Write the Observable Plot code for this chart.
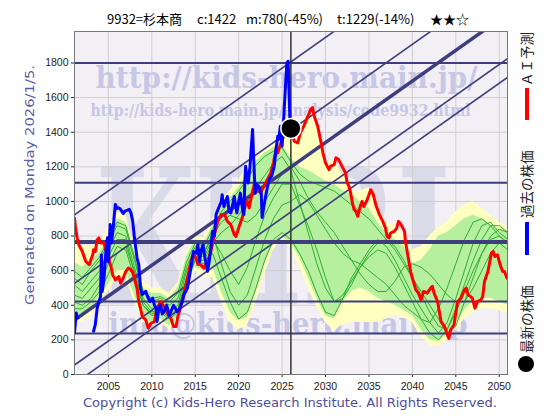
<!DOCTYPE html>
<html><head><meta charset="utf-8">
<script src="https://cdn.jsdelivr.net/npm/d3@7"></script>
<script src="https://cdn.jsdelivr.net/npm/@observablehq/plot@0.6"></script>
<style>body{margin:0;background:#fff}</style>
</head><body><div id="chart"></div>
<script>
// ---------- data ----------
const titleParts = ["9932=杉本商", "c:1422", "m:780(-45%)", "t:1229(-14%)", "★★☆"];
const xTicks = [2005, 2010, 2015, 2020, 2025, 2030, 2035, 2040, 2045, 2050];
const yTicks = [0, 200, 400, 600, 800, 1000, 1200, 1400, 1600, 1800];
const xDomain = [2001.1, 2050.95];
const yDomain = [0, 1982];
const today = 2026.01;
const currentPrice = 1422;
const levelLines = [1800, 1108, 422, 237];
const mainLevel = 765;
const trendSlope = 35.5;               // price units per year
const trendStarts = [922, 527, 55, -53]; // value at left edge
const trendMain = [315];

const bluePast = [[2001.1,240],[2001.2,300],[2001.3,355],[2001.4,335],[2001.5,330],[2002.5,null],
[2003.3,250],[2003.5,290],[2003.7,380],[2003.9,420],[2004.1,450],[2004.2,690],[2004.3,480],[2004.5,560],[2004.7,700],[2004.9,790],
[2005.0,650],[2005.2,867],[2005.35,760],[2005.5,820],[2005.8,983],[2006.0,960],[2006.2,963],[2006.4,955],[2006.7,930],[2006.9,944],
[2007.2,950],[2007.4,955],[2007.6,934],[2007.8,886],[2008.0,790],[2008.3,673],[2008.5,635],[2008.7,499],[2008.9,462],[2009.1,470],
[2009.3,480],[2009.6,440],[2009.8,422],[2010.1,441],[2010.3,400],[2010.5,383],[2010.6,306],[2010.8,380],[2011.0,404],[2011.2,350],
[2011.4,364],[2011.7,400],[2011.8,383],[2012.0,340],[2012.2,364],[2012.5,400],[2012.7,383],[2012.9,364],[2013.1,370],[2013.3,393],
[2013.5,420],[2013.7,461],[2014.1,499],[2014.5,615],[2014.8,711],[2015.1,700],[2015.3,750],[2015.5,653],[2015.7,720],[2015.9,750],
[2016.1,680],[2016.2,653],[2016.4,596],[2016.6,650],[2016.8,731],[2017.0,827],[2017.2,800],[2017.4,925],[2017.7,963],[2018.0,1000],
[2018.1,1039],[2018.3,971],[2018.5,1000],[2018.7,1029],[2018.9,940],[2019.1,934],[2019.3,980],[2019.5,1029],[2019.7,960],[2019.8,934],
[2020.0,1000],[2020.2,1048],[2020.5,934],[2020.6,925],[2020.7,1100],[2020.8,1204],[2020.9,1165],[2021.1,1107],[2021.3,1200],[2021.6,1416],
[2021.7,1281],[2021.9,1048],[2022.1,1100],[2022.3,1087],[2022.6,1048],[2022.7,907],[2022.9,971],[2023.1,1029],[2023.3,1080],[2023.5,1126],
[2023.8,1146],[2024.1,1204],[2024.3,1300],[2024.5,1377],[2024.6,1358],[2024.8,1435],[2025.0,1319],[2025.2,1493],[2025.4,1677],[2025.55,1800],
[2025.7,1810],[2025.8,1626],[2025.9,1474],[2026.0,1430]];

const redForecast = [[2001.1,903],[2001.2,857],[2001.4,790],[2001.6,750],[2002.0,711],[2002.4,653],[2002.8,635],[2003.2,692],[2003.3,721],
[2003.5,711],[2003.7,779],[2003.9,789],[2004.1,760],[2004.5,760],[2004.7,721],[2004.9,770],[2005.1,653],[2005.3,624],[2005.5,576],
[2005.8,547],[2006.2,566],[2006.4,528],[2006.7,556],[2007.0,595],[2007.3,615],[2007.6,605],[2007.8,590],[2008.0,556],[2008.3,498],
[2008.5,421],[2008.7,383],[2008.9,335],[2009.3,316],[2009.6,267],[2009.9,296],[2010.3,306],[2010.6,383],[2011.0,421],[2011.4,393],
[2011.8,354],[2012.2,325],[2012.5,277],[2012.8,277],[2013.0,335],[2013.3,383],[2013.7,461],[2014.1,556],[2014.5,653],[2014.8,692],
[2015.1,673],[2015.3,635],[2015.6,635],[2016.0,615],[2016.4,653],[2016.8,711],[2017.2,808],[2017.6,885],[2018.0,924],[2018.4,924],
[2018.7,885],[2019.1,866],[2019.5,808],[2019.7,798],[2020.0,846],[2020.4,904],[2020.8,981],[2021.0,1000],[2021.2,963],[2021.6,1058],
[2021.8,1097],[2022.2,1068],[2022.5,1048],[2022.9,1087],[2023.3,1126],[2023.7,1165],[2024.0,1223],[2024.3,1300],[2024.5,1281],[2024.8,1330],
[2025.2,1380],[2025.6,1400],[2026.0,1420],[2026.4,1348],[2026.8,1338],[2027.1,1396],[2027.5,1435],[2027.9,1484],[2028.3,1532],[2028.5,1542],
[2028.7,1493],[2029.1,1435],[2029.5,1338],[2029.7,1281],[2030.0,1223],[2030.4,1184],[2030.6,1204],[2031.0,1213],[2031.2,1252],[2031.5,1242],
[2031.8,1213],[2032.1,1184],[2032.3,1165],[2032.5,1107],[2032.7,1087],[2032.9,1048],[2033.1,990],[2033.3,952],[2033.5,943],[2033.7,914],
[2034.0,971],[2034.2,1000],[2034.4,971],[2034.8,1010],[2035.2,1068],[2035.5,1040],[2035.8,980],[2036.2,924],[2036.6,885],[2036.9,846],
[2037.1,798],[2037.3,789],[2037.5,817],[2037.9,827],[2038.2,846],[2038.4,885],[2038.7,866],[2039.1,827],[2039.2,769],[2039.4,711],
[2039.6,653],[2039.8,595],[2040.0,556],[2040.4,489],[2040.7,470],[2041.0,431],[2041.3,480],[2041.7,470],[2042.1,499],[2042.3,509],
[2042.5,470],[2042.9,422],[2043.1,364],[2043.3,306],[2043.7,277],[2044.1,219],[2044.2,209],[2044.4,258],[2044.8,287],[2045.2,422],
[2045.6,441],[2046.0,489],[2046.2,499],[2046.4,461],[2046.7,451],[2046.9,441],[2047.2,383],[2047.5,422],[2047.9,431],[2048.1,451],
[2048.3,537],[2048.7,595],[2049.1,701],[2049.3,711],[2049.5,682],[2049.8,692],[2050.1,635],[2050.4,595],[2050.6,595],[2050.9,556]];

const bandYears = [2001,2002,2003,2004,2005,2006,2007,2008,2009,2010,2011,2012,2013,2014,2015,2016,2017,2018,2019,2020,2021,2022,2023,2024,2025,2026,2027,2028,2029,2030,2031,2032,2033,2034,2035,2036,2037,2038,2039,2040,2041,2042,2043,2044,2045,2046,2047,2048,2049,2050,2051];
const outerLo = [300,300,340,420,480,560,560,420,300,280,300,260,300,500,600,560,560,420,300,260,280,420,580,720,780,740,620,500,390,300,250,290,300,300,300,300,320,340,330,300,220,170,160,200,260,320,360,380,380,370,355];
const innerLo = [320,330,380,450,520,600,600,460,320,300,320,280,330,520,620,600,620,480,360,310,330,480,640,760,800,760,680,560,440,340,320,420,480,500,480,440,420,400,370,340,260,200,190,230,300,370,420,440,440,420,400];
const innerHi = [650,620,660,700,800,900,880,700,500,470,470,440,500,680,780,760,860,960,1020,1080,1150,1230,1280,1310,1330,1250,1200,1180,1150,1120,1100,1060,1040,1000,960,880,820,780,740,640,660,720,800,820,860,900,920,900,860,840,825];
const outerHi = [770,740,740,760,850,940,920,740,540,500,500,470,530,700,800,790,900,1000,1060,1120,1200,1260,1300,1340,1370,1420,1400,1520,1440,1220,1240,1150,1060,1060,1080,960,880,860,800,720,740,800,850,880,940,980,1000,960,920,880,850];

const simLine1 = [600,560,620,680,780,880,860,680,480,440,450,420,470,650,760,740,840,940,1000,1060,1130,1210,1260,1290,1310,1230,1160,1120,1100,1080,1060,1020,980,940,900,840,780,720,640,560,480,400,320,240,280,420,560,700,800,840,820];
const simLine2 = [420,400,440,520,640,740,720,560,400,340,360,320,360,560,660,640,700,560,420,320,360,500,660,780,820,780,700,600,470,360,340,440,560,640,720,780,740,660,560,460,380,300,240,300,440,600,760,860,880,820,780];
const simLine3 = [520,480,540,600,720,820,800,620,440,380,400,360,400,600,700,680,780,700,600,520,620,780,920,1020,1100,1100,980,860,720,560,420,440,520,620,700,760,780,740,660,560,460,360,280,260,360,480,600,700,780,800,760];
const simLine4 = [380,380,420,480,580,700,740,600,420,360,380,340,380,560,680,700,800,880,920,900,880,920,1000,1080,1160,1200,1120,1020,940,880,820,740,660,580,520,480,480,540,620,640,620,580,520,460,420,420,500,600,700,760,720];
const simLine5 = [560,520,600,660,760,860,840,660,480,420,440,400,440,620,740,700,820,640,480,400,460,620,780,900,980,1000,1040,1000,920,840,760,700,660,640,600,560,520,460,400,360,320,300,380,500,640,780,880,900,860,800,760];
const simLine6 = [460,440,500,560,680,780,780,580,400,350,370,330,370,540,660,660,760,820,860,920,1000,1080,1150,1220,1260,1180,1000,820,640,500,420,460,540,620,680,720,700,620,520,420,320,240,200,260,380,520,660,780,860,860,820];

const wmURL = "http://kids-hero.main.jp/";
const wmPage = "http://kids-hero.main.jp/analysis/code9932.html";
const wmBig = "KHRI";
const wmMail = "info@kids-hero.main.jp";
const generatedText = "Generated on Monday 2026/1/5.";
const copyrightText = "Copyright (c) Kids-Hero Research Institute. All Rights Reserved.";
const legendLabels = ["ＡＩ予測", "過去の株価", "最新の株価"];

// ---------- derived tables ----------
const band = bandYears.map((year, i) => ({year, lo: outerLo[i], il: innerLo[i], ih: innerHi[i], hi: outerHi[i]}));
const simLines = [simLine1, simLine2, simLine3, simLine4, simLine5, simLine6];
const simData = simLines.flatMap((arr, k) => arr.map((v, i) => ({year: bandYears[i], v, k})));
const blue = bluePast.map(([x, y]) => ({x, y}));
const red = redForecast.map(([x, y]) => ({x, y}));

const navy = "#3e3e7e";
const wmFont = "DejaVu Serif, serif";

const chart = Plot.plot({
  width: 560, height: 420,
  marginLeft: 74, marginRight: 53, marginTop: 31, marginBottom: 46,
  style: {background: "#fff", fontFamily: "Liberation Sans, Arial, sans-serif", fontSize: "10.5px", color: "#222"},
  x: {domain: xDomain, ticks: xTicks, tickFormat: d => String(d), tickSize: 3, tickPadding: 5, label: null},
  y: {domain: yDomain, ticks: yTicks, tickFormat: d => String(d), tickSize: 3, tickPadding: 3, label: null},
  marks: [
    Plot.frame({fill: "#f2f0f5", stroke: null}),
    Plot.text([wmBig], {frameAnchor: "top-left", dx: 95 - 74, dy: 303 - 31, text: d => d, textAnchor: "start", lineAnchor: "bottom", fontFamily: wmFont, fontWeight: "bold", fontSize: 190, fill: "#dadae8"}),
    Plot.text([wmURL], {frameAnchor: "top-left", dx: 95 - 74, dy: 87 - 31, text: d => d, textAnchor: "start", lineAnchor: "bottom", fontFamily: wmFont, fontWeight: "bold", fontSize: 30, fill: "#c6c6e6"}),
    Plot.text([wmPage], {frameAnchor: "top-left", dx: 90 - 74, dy: 115 - 31, text: d => d, textAnchor: "start", lineAnchor: "bottom", fontFamily: wmFont, fontWeight: "bold", fontSize: 16, fill: "#c6c6e6"}),
    Plot.text([wmMail], {frameAnchor: "top-left", dx: 108 - 74, dy: 333 - 31, text: d => d, textAnchor: "start", lineAnchor: "bottom", fontFamily: wmFont, fontWeight: "bold", fontSize: 30, fill: "#c6c6e6"}),
    Plot.ruleX(xTicks, {stroke: "#cfcfcf", strokeWidth: 1}),
    Plot.ruleY(yTicks.slice(1), {stroke: "#cfcfcf", strokeWidth: 1}),
    Plot.areaY(band, {x: "year", y1: "lo", y2: "hi", fill: "#ffffc0", clip: true}),
    Plot.areaY(band, {x: "year", y1: "il", y2: "ih", fill: "#b6f09e", clip: true}),
    Plot.line(simData, {x: "year", y: "v", z: "k", stroke: "#2fae2f", strokeWidth: 1, clip: true}),
    Plot.ruleY(levelLines, {stroke: navy, strokeWidth: 2}),
    Plot.ruleY([mainLevel], {stroke: navy, strokeWidth: 4}),
    Plot.link(trendStarts, {x1: () => xDomain[0], x2: () => xDomain[1], y1: d => d, y2: d => d + trendSlope * (xDomain[1] - xDomain[0]), stroke: navy, strokeWidth: 1.6, clip: true}),
    Plot.link(trendMain, {x1: () => xDomain[0], x2: () => xDomain[1], y1: d => d, y2: d => d + trendSlope * (xDomain[1] - xDomain[0]), stroke: navy, strokeWidth: 3.5, clip: true}),
    Plot.line(red, {x: "x", y: "y", stroke: "#ff0000", strokeWidth: 3, clip: true}),
    Plot.ruleX([today], {stroke: "#333", strokeWidth: 1.5}),
    Plot.line(blue, {x: "x", y: "y", stroke: "#0000ff", strokeWidth: 3, clip: true}),
    Plot.dot([{x: today, y: currentPrice}], {x: "x", y: "y", r: 10, fill: "#000", stroke: "#fff", strokeWidth: 1.5}),
    Plot.frame({stroke: "#777"})
  ]
});

// fit watermark widths
const wmLengths = {[wmURL]: 382, [wmPage]: 380, [wmBig]: 355, [wmMail]: 359};
chart.querySelectorAll("text").forEach(t => {
  const L = wmLengths[t.textContent];
  if (L) { t.setAttribute("textLength", L); t.setAttribute("lengthAdjust", "spacingAndGlyphs"); }
});

const svg = d3.select(chart);
const jp = "Noto Sans CJK JP, sans-serif";
// title
const titleX = [107, 197, 246, 337, 430];
titleParts.forEach((p, i) => {
  svg.append("text").attr("x", titleX[i]).attr("y", 24).attr("fill", "#000").attr("text-anchor", "start")
    .style("font-family", jp).style("font-size", "13px").text(p);
});
// left generated label
svg.append("text").attr("transform", "translate(34,185) rotate(-90)").attr("text-anchor", "middle")
  .attr("fill", "#5a5aa6").style("font-family", "DejaVu Sans, sans-serif").style("font-size", "12.5px")
  .attr("textLength", 240).attr("lengthAdjust", "spacingAndGlyphs").text(generatedText);
// copyright
svg.append("text").attr("x", 290).attr("y", 407).attr("text-anchor", "middle")
  .attr("fill", "#4e4e9c").style("font-family", "DejaVu Sans, sans-serif").style("font-size", "12px")
  .attr("textLength", 414).attr("lengthAdjust", "spacingAndGlyphs").text(copyrightText);
// legend
const legendStart = [86, 218, 353];
legendLabels.forEach((lab, i) => {
  svg.append("text").attr("transform", `translate(532,${legendStart[i]}) rotate(-90)`).attr("text-anchor", "start")
    .attr("fill", "#222").style("font-family", jp).style("font-size", "13.5px").text(lab);
});
svg.append("rect").attr("x", 525).attr("y", 88).attr("width", 4).attr("height", 32).attr("fill", "#ff0000");
svg.append("rect").attr("x", 525).attr("y", 222).attr("width", 4).attr("height", 33).attr("fill", "#0000ff");
svg.append("circle").attr("cx", 526).attr("cy", 364).attr("r", 8).attr("fill", "#000");

document.getElementById("chart").appendChild(chart);
</script>
</body></html>
